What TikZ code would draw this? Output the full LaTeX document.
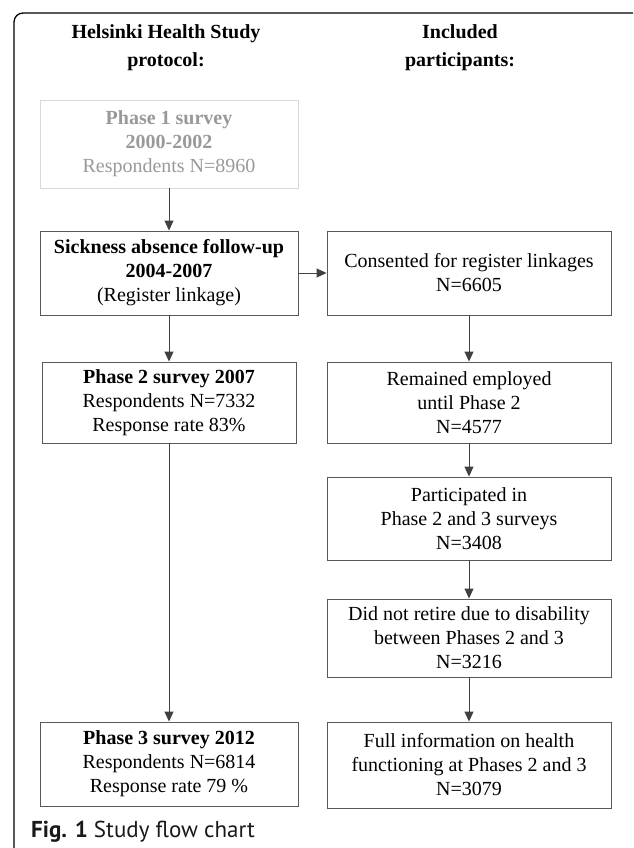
\documentclass[tikz,border=0pt]{standalone}
\usepackage{fontspec}
\setmainfont{Liberation Serif}
\newfontfamily\capfont{PT Sans}
\usetikzlibrary{arrows.meta}

\newcommand\boxfont{\fontsize{20}{24}\selectfont}
\newcommand\headfont{\fontsize{20}{28}\selectfont\bfseries}

\begin{document}
\begin{tikzpicture}[x=1pt, y=-1pt, >={Triangle[length=10pt,width=9pt]},
    box/.style={draw=black!65, line width=0.9pt, align=center, inner sep=0pt, font=\boxfont},
    greybox/.style={box, draw=black!15, text=black!40},
    head/.style={align=center, inner sep=0pt, font=\headfont},
    arrow/.style={->, draw=black!75, line width=0.9pt}]
  \useasboundingbox (0,0) rectangle (633,848);
  \clip (0,0) rectangle (633,848);

  % Frame
  \draw[line width=1.3pt, rounded corners=9pt] (14,860) -- (14,13) -- (642,13) -- (642,860);

  % Column heads
  \node[head] (lefthead) at (166,48) {Helsinki Health Study\\protocol:};
  \node[head] (righthead) at (460,48) {Included\\participants:};

  % Study protocol
  \node[greybox, minimum width=258pt, minimum height=88pt] (phaseone) at (169,144)
    {\textbf{Phase 1 survey}\\\textbf{2000-2002}\\Respondents N=8960};
  \node[box, minimum width=258pt, minimum height=84pt] (sickness) at (169,273)
    {\textbf{Sickness absence follow-up}\\\textbf{2004-2007}\\(Register linkage)};
  \node[box, minimum width=254pt, minimum height=81pt] (phasetwo) at (169,402.5)
    {\textbf{Phase 2 survey 2007}\\Respondents N=7332\\Response rate 83\%};
  \node[box, minimum width=258pt, minimum height=84pt] (phasethree) at (169,764)
    {\textbf{Phase 3 survey 2012}\\Respondents N=6814\\Response rate 79 \%};

  % Included participants
  \node[box, minimum width=284pt, minimum height=84pt] (consented) at (469,273)
    {Consented for register linkages\\N=6605};
  \node[box, minimum width=284pt, minimum height=81pt] (employed) at (469,402.5)
    {Remained employed\\until Phase 2\\N=4577};
  \node[box, minimum width=284pt, minimum height=83pt] (participated) at (469,518.5)
    {Participated in\\Phase 2 and 3 surveys\\N=3408};
  \node[box, minimum width=284pt, minimum height=78pt] (notretired) at (469,638)
    {Did not retire due to disability\\between Phases 2 and 3\\N=3216};
  \node[box, minimum width=284pt, minimum height=86pt] (fullinfo) at (469,765)
    {Full information on health\\functioning at Phases 2 and 3\\N=3079};

  % Arrows
  \draw[arrow] (phaseone) -- (sickness);
  \draw[arrow] (sickness) -- (consented);
  \draw[arrow] (sickness) -- (phasetwo);
  \draw[arrow] (phasetwo) -- (phasethree);
  \draw[arrow] (consented) -- (employed);
  \draw[arrow] (employed) -- (participated);
  \draw[arrow] (participated) -- (notretired);
  \draw[arrow] (notretired) -- (fullinfo);

  % Caption
  \node[anchor=west, inner sep=0pt, text=black!90, font=\capfont\fontsize{23}{26}\selectfont] (caption) at (31,832)
    {\textbf{Fig. 1} Study flow chart};
\end{tikzpicture}
\end{document}
